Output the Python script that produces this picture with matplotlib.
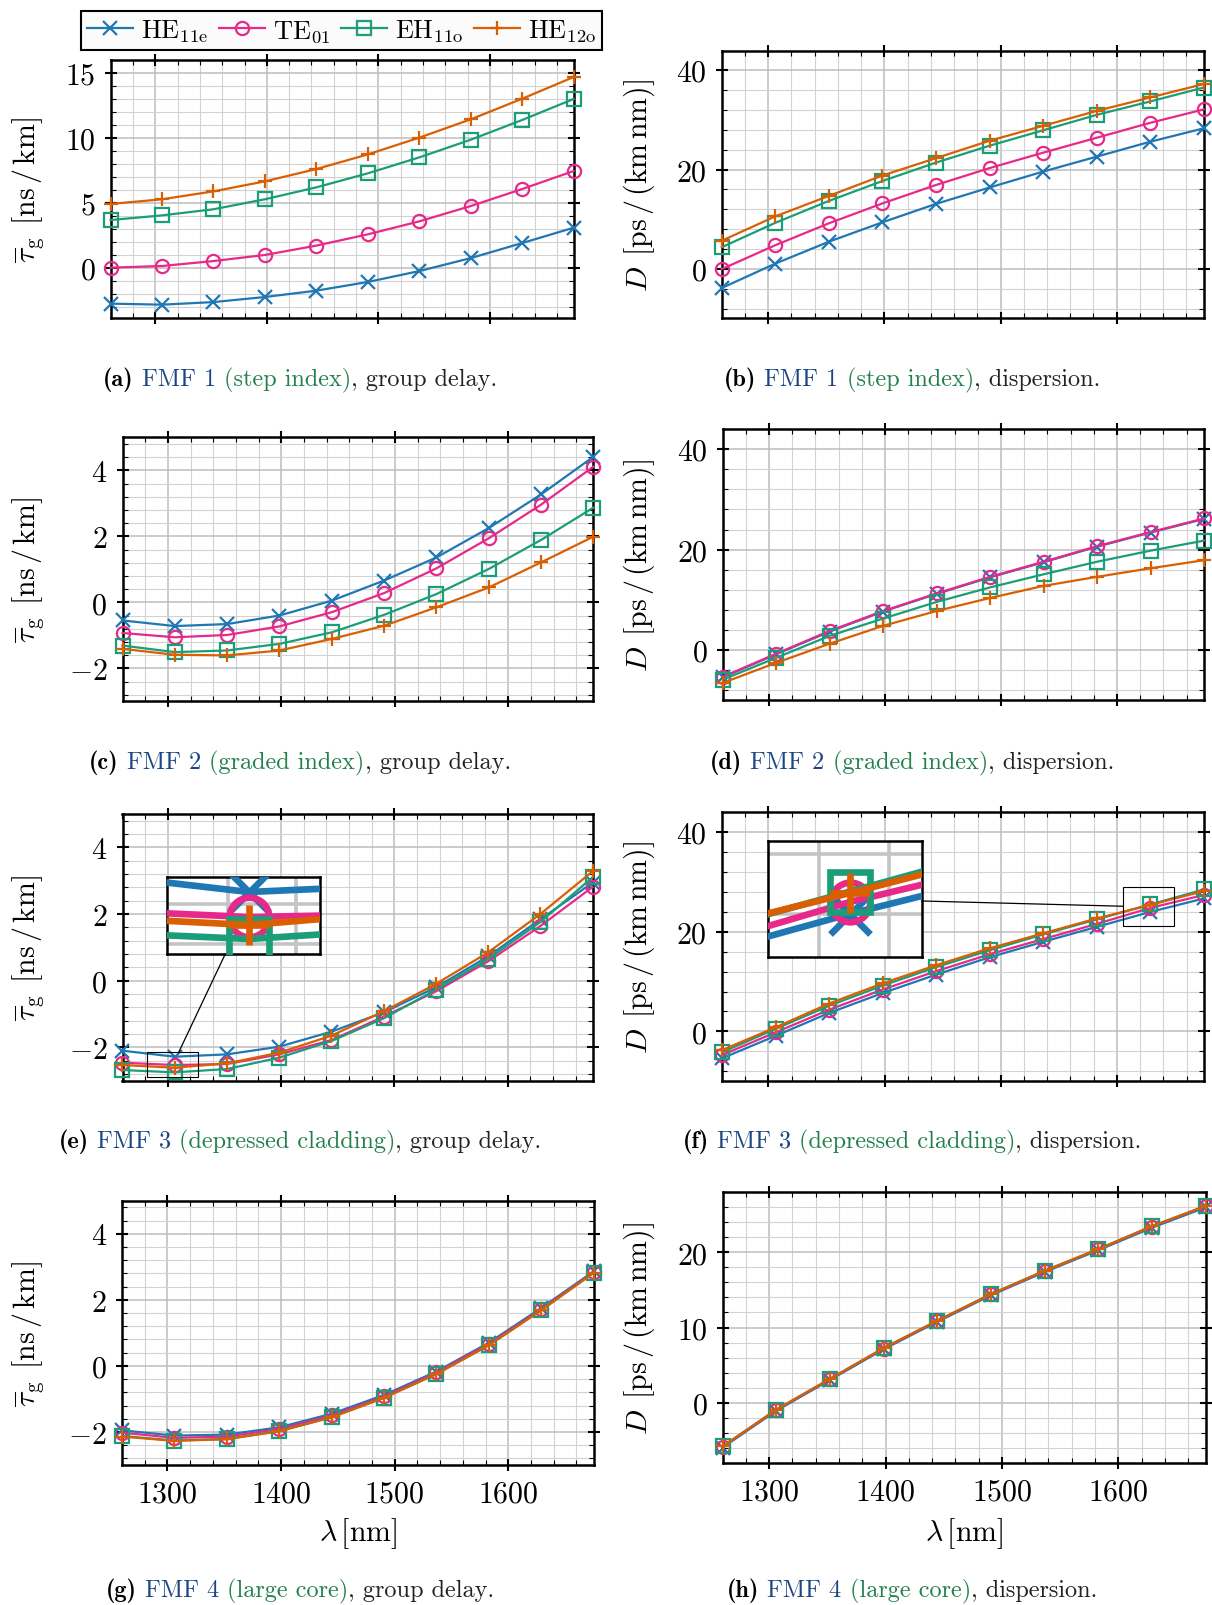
import matplotlib
matplotlib.use("Agg")
import matplotlib.pyplot as plt
from matplotlib.ticker import MultipleLocator
from matplotlib.patches import Rectangle
from matplotlib.lines import Line2D
from matplotlib.offsetbox import TextArea, HPacker, AnnotationBbox

plt.rcParams.update({
    'font.family': 'serif',
    'font.serif': ['cmr10'],
    'mathtext.fontset': 'cm',
    'axes.formatter.use_mathtext': True,
})

W, H = 1212, 1606

# ---- data -------------------------------------------------------------
lam = [1260, 1306.1, 1352.2, 1398.3, 1444.4, 1490.6, 1536.7, 1582.8, 1628.9, 1675]

modes = [r'$\mathrm{HE}_{11\mathrm{e}}$', r'$\mathrm{TE}_{01}$',
         r'$\mathrm{EH}_{11\mathrm{o}}$', r'$\mathrm{HE}_{12\mathrm{o}}$']
colors = ['#1f77b4', '#e7298a', '#1b9e77', '#d95f02']
markers = ['x', 'o', 's', '+']

# group delay [ns/km], order: HE11e, TE01, EH11o, HE12o
tau_fmf1 = [
    [-2.77, -2.85, -2.65, -2.26, -1.77, -1.10, -0.26, 0.74, 1.90, 3.08],
    [0.00, 0.13, 0.51, 0.98, 1.70, 2.57, 3.57, 4.75, 6.06, 7.45],
    [3.67, 4.03, 4.50, 5.27, 6.19, 7.27, 8.50, 9.86, 11.38, 13.00],
    [4.91, 5.27, 5.88, 6.65, 7.60, 8.73, 10.02, 11.43, 13.02, 14.69],
]
tau_fmf2 = [
    [-0.55, -0.72, -0.66, -0.40, 0.05, 0.66, 1.36, 2.25, 3.27, 4.41],
    [-0.93, -1.06, -0.99, -0.73, -0.30, 0.28, 1.03, 1.94, 2.96, 4.11],
    [-1.31, -1.51, -1.46, -1.26, -0.91, -0.38, 0.25, 1.01, 1.89, 2.87],
    [-1.41, -1.59, -1.61, -1.46, -1.11, -0.71, -0.15, 0.45, 1.21, 1.99],
]
tau_fmf3 = [
    [-2.10, -2.28, -2.21, -1.98, -1.53, -0.95, -0.20, 0.73, 1.84, 2.94],
    [-2.46, -2.53, -2.50, -2.21, -1.78, -1.08, -0.32, 0.58, 1.64, 2.81],
    [-2.68, -2.75, -2.65, -2.31, -1.81, -1.13, -0.27, 0.65, 1.76, 3.10],
    [-2.53, -2.61, -2.48, -2.16, -1.65, -0.92, -0.10, 0.85, 2.00, 3.28],
]
tau_fmf4 = [
    [-1.95, -2.11, -2.08, -1.86, -1.45, -0.88, -0.17, 0.70, 1.75, 2.86],
    [-2.02, -2.18, -2.14, -1.91, -1.50, -0.92, -0.20, 0.67, 1.72, 2.84],
    [-2.12, -2.26, -2.21, -1.97, -1.55, -0.96, -0.24, 0.63, 1.69, 2.82],
    [-2.14, -2.27, -2.22, -1.98, -1.56, -0.97, -0.25, 0.62, 1.68, 2.81],
]

# dispersion [ps/(km nm)]
disp_fmf1 = [
    [-3.8, 1.1, 5.5, 9.4, 13.1, 16.4, 19.6, 22.6, 25.6, 28.3],
    [0.0, 4.8, 9.2, 13.2, 16.9, 20.3, 23.4, 26.4, 29.4, 32.1],
    [4.4, 9.3, 13.7, 17.7, 21.4, 24.8, 27.9, 31.0, 33.7, 36.5],
    [5.7, 10.6, 14.7, 18.8, 22.3, 25.8, 28.8, 31.8, 34.5, 37.2],
]
disp_fmf2 = [
    [-5.4, -0.8, 3.7, 7.7, 11.2, 14.5, 17.5, 20.6, 23.4, 26.1],
    [-5.3, -0.7, 3.85, 7.8, 11.3, 14.6, 17.6, 20.7, 23.5, 26.2],
    [-5.85, -1.5, 2.85, 6.3, 9.6, 12.5, 15.1, 17.6, 19.8, 21.8],
    [-6.5, -2.5, 1.3, 4.85, 7.8, 10.4, 12.8, 14.6, 16.3, 17.9],
]
disp_fmf3 = [
    [-5.4, -0.9, 3.7, 7.7, 11.4, 14.9, 18.0, 21.0, 24.0, 26.7],
    [-4.75, -0.2, 4.35, 8.4, 12.1, 15.5, 18.55, 21.6, 24.8, 27.4],
    [-4.2, 0.5, 5.15, 9.2, 12.9, 16.3, 19.5, 22.5, 25.5, 28.5],
    [-3.75, 0.8, 5.6, 9.65, 13.3, 16.7, 19.7, 22.7, 25.4, 28.2],
]
disp_fmf4 = [
    [-6.0, -1.1, 3.0, 7.1, 10.75, 14.3, 17.4, 20.3, 23.3, 26.0],
    [-5.9, -1.0, 3.1, 7.2, 10.85, 14.4, 17.5, 20.4, 23.45, 26.15],
    [-5.85, -0.95, 3.15, 7.25, 10.9, 14.45, 17.56, 20.45, 23.5, 26.2],
    [-5.85, -0.95, 3.15, 7.25, 10.9, 14.45, 17.56, 20.45, 23.5, 26.2],
]

fibres = ['FMF 1', 'FMF 2', 'FMF 3', 'FMF 4']
profiles = ['(step index)', '(graded index)', '(depressed cladding)', '(large core)']

TAU_LABEL = r'$\overline{\tau}_\mathrm{g}\;\,[\mathrm{ns}\,/\,\mathrm{km}]$'
D_LABEL = r'$D\;\,[\mathrm{ps}\,/\,(\mathrm{km}\,\mathrm{nm})]$'

FS = 21.5       # ticks / axis labels
CAP_FS = 17.5   # captions


def px_rect(left, top, right, bottom):
    return [left / W, 1 - bottom / H, (right - left) / W, (bottom - top) / H]


def style_axes(ax, ylim, ymajor, bottom_row):
    ax.set_xlim(1260, 1675)
    ax.set_ylim(*ylim)
    ax.xaxis.set_major_locator(MultipleLocator(100))
    ax.xaxis.set_minor_locator(MultipleLocator(20))
    ax.yaxis.set_major_locator(MultipleLocator(ymajor))
    ax.yaxis.set_minor_locator(MultipleLocator(ymajor / 5))
    ax.grid(True, which='major', color='#bdbdbd', lw=1.1)
    ax.grid(True, which='minor', color='#d2d2d2', lw=0.8)
    ax.set_axisbelow(True)
    for s in ax.spines.values():
        s.set_linewidth(1.8)
    ax.tick_params(which='major', direction='inout', length=8, width=1.5,
                   top=True, right=True, labelsize=FS, pad=7,
                   labelbottom=bottom_row)
    ax.tick_params(which='minor', direction='in', length=3.5, width=0.8,
                   top=True, right=True)


def plot_modes(ax, series, scale=1.0, clip=False):
    lines = []
    for vals, c, m, lab in zip(series, colors, markers, modes):
        ln, = ax.plot(lam, vals, color=c, marker=m, lw=1.6 * scale,
                      ms=9.5 * scale, mew=1.6 * scale, mfc='none', label=lab,
                      clip_on=clip, zorder=3)
        lines.append(ln)
    return lines


def spy(fig, ax, series, xr, yr, box, ymajor):
    # small rectangle in the main axes
    ax.add_patch(Rectangle((xr[0], yr[0]), xr[1] - xr[0], yr[1] - yr[0],
                           fill=False, ec='black', lw=0.8, zorder=6))
    axins = fig.add_axes(px_rect(*box))
    plot_modes(axins, series, scale=3.0, clip=True)
    axins.set_xlim(*xr)
    axins.set_ylim(*yr)
    axins.xaxis.set_major_locator(MultipleLocator(100))
    axins.xaxis.set_minor_locator(MultipleLocator(20))
    axins.yaxis.set_major_locator(MultipleLocator(ymajor))
    axins.yaxis.set_minor_locator(MultipleLocator(ymajor / 5))
    axins.grid(True, which='both', color='#c4c4c4', lw=2.6)
    axins.set_axisbelow(True)
    axins.tick_params(which='both', length=0, labelbottom=False, labelleft=False)
    for s in axins.spines.values():
        s.set_linewidth(1.8)

    # connecting line between the two boxes (centre to centre, clipped)
    p0 = ax.transData.transform((xr[0], yr[0]))
    p1 = ax.transData.transform((xr[1], yr[1]))
    r_c = (p0 + p1) / 2
    r_h = (p1 - p0) / 2
    bb = axins.get_window_extent()
    i_c = [(bb.x0 + bb.x1) / 2, (bb.y0 + bb.y1) / 2]
    i_h = [bb.width / 2, bb.height / 2]
    dx, dy = i_c[0] - r_c[0], i_c[1] - r_c[1]

    def exit_t(hw, hh):
        t = []
        if dx != 0:
            t.append(hw / abs(dx))
        if dy != 0:
            t.append(hh / abs(dy))
        return min(t)

    t0 = exit_t(r_h[0], r_h[1])
    t1 = 1 - exit_t(i_h[0], i_h[1])
    xs = [(r_c[0] + t0 * dx) / W, (r_c[0] + t1 * dx) / W]
    ys = [(r_c[1] + t0 * dy) / H, (r_c[1] + t1 * dy) / H]
    fig.add_artist(Line2D(xs, ys, color='black', lw=0.9,
                          transform=fig.transFigure))


def caption(fig, x, y, tag, fibre, profile, rest):
    parts = [
        TextArea(tag, textprops=dict(family='cmb10', fontsize=CAP_FS, color='black')),
        TextArea(fibre, textprops=dict(fontsize=CAP_FS, color='#1c4683')),
        HPacker(children=[
            TextArea(profile, textprops=dict(fontsize=CAP_FS, color='#22804c')),
            TextArea(rest, textprops=dict(fontsize=CAP_FS, color='#222222')),
        ], align='baseline', pad=0, sep=0),
    ]
    box = HPacker(children=parts, align='baseline', pad=0, sep=CAP_FS * 0.33)
    ab = AnnotationBbox(box, (x / W, 1 - y / H), xycoords='figure fraction',
                        frameon=False, box_alignment=(0.5, 0.5))
    fig.add_artist(ab)


fig = plt.figure(figsize=(W / 100, H / 100), dpi=100)

# (left, top, right, bottom) in pixels
left_boxes = [(110.6, 61, 573.7, 319.3), (122.5, 438.3, 593.4, 702.3),
              (122.5, 815, 592.6, 1081.7), (122, 1201.7, 593.5, 1466)]
right_boxes = [(721.8, 51.7, 1203.8, 319.3), (722.7, 430, 1204, 701),
               (722, 813.3, 1204, 1081.7), (722.6, 1192.7, 1205.6, 1464.3)]
tau_data = [tau_fmf1, tau_fmf2, tau_fmf3, tau_fmf4]
disp_data = [disp_fmf1, disp_fmf2, disp_fmf3, disp_fmf4]
tau_lims = [(-3.9, 16.0), (-3.0, 5.0), (-3.0, 5.0), (-3.0, 5.0)]
tau_major = [5, 2, 2, 2]
disp_lims = [(-9.9, 43.9), (-9.9, 44.0), (-9.9, 44.0), (-8.1, 28.1)]
disp_major = [20, 20, 20, 10]
cap_y = [380, 763, 1142, 1591]
tags = ['abcdefgh'[i] for i in range(8)]

handles = None
for row in range(4):
    bottom_row = row == 3
    for col in range(2):
        box = left_boxes[row] if col == 0 else right_boxes[row]
        ax = fig.add_axes(px_rect(*box))
        if col == 0:
            series, ylim, ymaj, ylab = tau_data[row], tau_lims[row], tau_major[row], TAU_LABEL
            lab_x = 28
        else:
            series, ylim, ymaj, ylab = disp_data[row], disp_lims[row], disp_major[row], D_LABEL
            lab_x = 639
        lines = plot_modes(ax, series)
        if handles is None:
            handles = lines
        style_axes(ax, ylim, ymaj, bottom_row)

        ax.set_ylabel(ylab, fontsize=FS)
        ax.yaxis.label.set_verticalalignment('center')
        ax.yaxis.set_label_coords((lab_x - box[0]) / (box[2] - box[0]), 0.5)
        if bottom_row:
            ax.set_xlabel(r'$\lambda\,[\mathrm{nm}]$', fontsize=FS)
            ax.xaxis.label.set_verticalalignment('center')
            ax.xaxis.set_label_coords(0.5, -(1534 - box[3]) / (box[3] - box[1]))

        if row == 2 and col == 0:
            spy(fig, ax, series, (1282, 1327), (-2.9, -2.13), (167, 878, 320, 955), ymaj)
        if row == 2 and col == 1:
            spy(fig, ax, series, (1605.5, 1649.5), (21.1, 28.9), (768, 842, 922, 958), ymaj)

        tag = '(' + tags[2 * row + col] + ')'
        rest = ', group delay.' if col == 0 else ', dispersion.'
        caption(fig, 300 if col == 0 else 912, cap_y[row], tag,
                fibres[row], profiles[row], rest)

leg = fig.legend(handles, modes, loc='center', ncol=4,
                 bbox_to_anchor=(341.5 / W, 1 - 31.5 / H),
                 fontsize=19, frameon=True, fancybox=False, framealpha=1,
                 facecolor='#fbfbfb', edgecolor='black',
                 handlelength=1.75, handletextpad=0.3, columnspacing=0.4,
                 borderpad=0.25)
leg.get_frame().set_linewidth(1.5)

fig.savefig('out.png', dpi=100)
